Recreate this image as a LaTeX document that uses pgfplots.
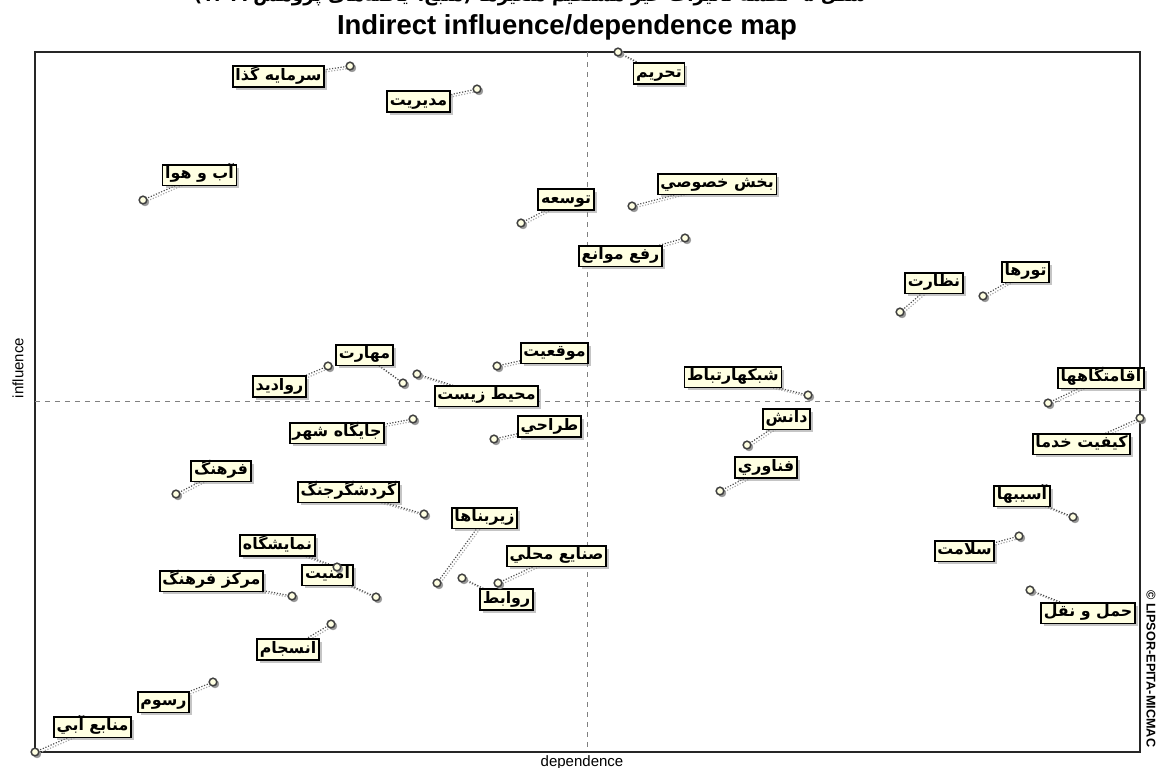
\documentclass[border=0pt]{standalone}
\usepackage{fontspec}
\setmainfont{Liberation Sans}
\newfontfamily\ar[Script=Arabic]{DejaVu Sans}
\usepackage{pgfplots}
\pgfplotsset{compat=1.18}
\usetikzlibrary{shadows}
\TeXXeTstate=1
\definecolor{boxfill}{RGB}{255,255,226}
\tikzset{lbl/.style={draw=black, line width=1.1pt, fill=boxfill, inner xsep=1.6pt, inner ysep=1pt,
  text height=7.6pt, text depth=2.9pt, font=\fontsize{9.5}{10}\ar\bfseries,
  drop shadow={shadow xshift=1.8pt, shadow yshift=-1.8pt, fill=black!45}}}
\newcommand{\lab}[5]{%
  \draw[densely dotted, black!35, line width=0.7pt] ([xshift=1.2pt,yshift=-1.2pt]axis cs:#1,#2) -- ([xshift=1.2pt,yshift=-1.2pt]axis cs:#3,#4);
  \draw[densely dotted, black!70, line width=0.7pt] (axis cs:#1,#2) -- (axis cs:#3,#4);
  \node[lbl] at (axis cs:#3,#4) {#5};
}
\begin{document}
\begin{tikzpicture}
\begin{axis}[x=0.6pt, y=0.6pt, y dir=reverse,
  xmin=35, xmax=1140, ymin=52, ymax=752,
  axis lines=box, ticks=none, clip=false,
  axis line style={line width=0.9pt, black!85}]
% mean lines
\draw[dashed, black!50, line width=0.6pt] (axis cs:587.5,52) -- (axis cs:587.5,752);
\draw[dashed, black!50, line width=0.6pt] (axis cs:35,401) -- (axis cs:1140,401);
% labels: circle x, circle y, label x, label y, text
\lab{350}{66}{278.5}{76.5}{\beginR سرمایه گذا\endR}
\lab{477}{89}{418.5}{101.5}{\beginR مدیریت\endR}
\lab{143}{200}{199.5}{175}{\beginR آب و هوا\endR}
\lab{618}{52}{659}{73.5}{\beginR تحریم\endR}
\lab{632}{206}{717}{184}{\beginR بخش خصوصي\endR}
\lab{521}{223}{566}{199.5}{\beginR توسعه\endR}
\lab{685}{238}{620.5}{256}{\beginR رفع موانع\endR}
\lab{900}{312}{934}{283}{\beginR نظارت\endR}
\lab{983}{296}{1025.5}{272}{\beginR تورها\endR}
\lab{1048}{403}{1101}{378}{\beginR اقامتگاهها\endR}
\lab{1140}{418}{1081.5}{444}{\beginR کیفیت خدما\endR}
\lab{403}{383}{364.5}{355}{\beginR مهارت\endR}
\lab{328}{366}{279.5}{386.5}{\beginR روادید\endR}
\lab{417}{374}{486.5}{396}{\beginR محیط زیست\endR}
\lab{497}{366}{554.5}{353}{\beginR موقعیت\endR}
\lab{413}{419}{337}{433}{\beginR جایگاه شهر\endR}
\lab{494}{439}{549.5}{426.5}{\beginR طراحي\endR}
\lab{176}{494}{221}{471}{\beginR فرهنگ\endR}
\lab{424}{514}{348.5}{492}{\beginR گردشگرجنگ\endR}
\lab{437}{583}{484.5}{518}{\beginR زیربناها\endR}
\lab{337}{567}{277.5}{545.5}{\beginR نمایشگاه\endR}
\lab{376}{597}{327.5}{575}{\beginR امنیت\endR}
\lab{292}{596}{211.5}{581}{\beginR مرکز فرهنگ\endR}
\lab{498}{583}{556.5}{556}{\beginR صنایع محلي\endR}
\lab{462}{578}{506.5}{599.5}{\beginR روابط\endR}
\lab{808}{395}{733}{377}{\beginR شبکهارتباط\endR}
\lab{747}{445}{786.5}{419}{\beginR دانش\endR}
\lab{720}{491}{766}{467.5}{\beginR فناوري\endR}
\lab{331}{624}{288}{649.5}{\beginR انسجام\endR}
\lab{213}{682}{163.5}{702}{\beginR رسوم\endR}
\lab{35}{752}{92.5}{727}{\beginR منابع آبي\endR}
\lab{1073}{517}{1022}{496}{\beginR آسیبها\endR}
\lab{1019}{536}{964.5}{551}{\beginR سلامت\endR}
\lab{1030}{590}{1088}{613}{\beginR حمل و نقل\endR}
% variable positions (indirect dependence, indirect influence)
\addplot[only marks, mark=*, mark size=2.3pt, mark options={draw=black!40, fill=black!40, xshift=1.2pt, yshift=-1.2pt}] coordinates {
(350,66) (477,89) (143,200) (618,52) (632,206) (521,223) (685,238) (900,312) (983,296)
(1048,403) (1140,418) (403,383) (328,366) (417,374) (497,366) (413,419) (494,439)
(176,494) (424,514) (437,583) (337,567) (376,597) (292,596) (498,583) (462,578)
(808,395) (747,445) (720,491) (331,624) (213,682) (35,752) (1073,517) (1019,536) (1030,590)};
\addplot[only marks, mark=*, mark size=2.3pt, mark options={draw=black!75, fill=boxfill, line width=0.9pt}] coordinates {
(350,66) (477,89) (143,200) (618,52) (632,206) (521,223) (685,238) (900,312) (983,296)
(1048,403) (1140,418) (403,383) (328,366) (417,374) (497,366) (413,419) (494,439)
(176,494) (424,514) (437,583) (337,567) (376,597) (292,596) (498,583) (462,578)
(808,395) (747,445) (720,491) (331,624) (213,682) (35,752) (1073,517) (1019,536) (1030,590)};
% texts
\node[font=\fontsize{16.5}{18}\selectfont\bfseries] at (axis cs:567,27) {Indirect influence/dependence map};
\node[font=\fontsize{11}{12}\ar\bfseries, anchor=base] at (axis cs:530,1) {\beginR شکل ۵- نقشه تاثیرات غیر مستقیم متغیرها (منبع: یافته‌های پژوهش ۱۳۹۹)\endR};
\node[font=\fontsize{9}{10}\selectfont, rotate=90] at (axis cs:18,368) {influence};
\node[font=\fontsize{9}{10}\selectfont, anchor=base] at (axis cs:582,766) {dependence};
\node[font=\fontsize{7.6}{8}\selectfont\bfseries, rotate=-90, anchor=west, inner sep=0pt] at (axis cs:1151,590) {\textcopyright{} LIPSOR-EPITA-MICMAC};
\coordinate (BL) at (axis cs:0,767);
\coordinate (TR) at (axis cs:1159,0);
\end{axis}
\pgfresetboundingbox
\useasboundingbox (BL) rectangle (TR);
\end{tikzpicture}
\end{document}
